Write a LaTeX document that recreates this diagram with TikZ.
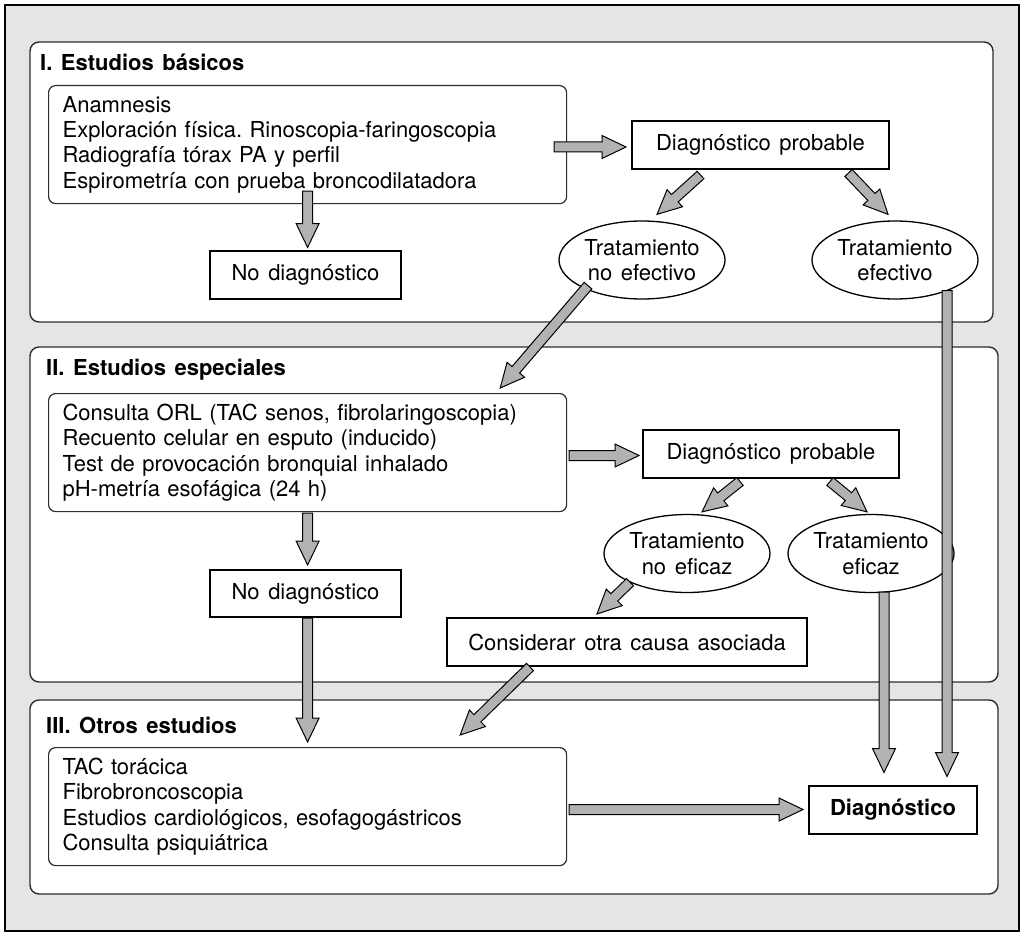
\documentclass[tikz,border=0pt]{standalone}
\usepackage{fontspec}
\setmainfont[WordSpace={1.4}]{TeX Gyre Heros}
\usepackage{tikz}
\usetikzlibrary{calc, shapes.geometric}
\usepackage{xcolor}
\definecolor{bggray}{RGB}{229,229,229}
\definecolor{arrowgray}{RGB}{178,178,178}
\definecolor{framegray}{RGB}{45,45,45}
\frenchspacing

\tikzset{
  panel/.style={draw=framegray, line width=1.4pt, fill=white, rounded corners=9pt},
  paneltitle/.style={anchor=west, inner sep=0pt, font=\fontsize{22}{25.3}\selectfont\bfseries},
  listbox/.style={draw=framegray, line width=1.2pt, rounded corners=7pt, anchor=north west,
    align=left, text width=490pt, inner xsep=14pt, inner ysep=0pt, minimum width=518pt, minimum height=118pt},
  resultbox/.style={draw=black, line width=2pt, fill=white, inner sep=0pt, minimum height=48pt},
  treatment/.style={ellipse, draw=black, line width=1.3pt, fill=white, inner sep=0pt,
    minimum width=166pt, minimum height=78pt, align=center},
  fat/.style={draw=black, line width=1pt, fill=arrowgray, line join=miter,
    to path={let \p1=(\tikztostart), \p2=(\tikztotarget), \p3=($(\p2)!24pt!(\p1)$) in
      ($(\p1)!5pt!90:(\p2)$) -- ($(\p3)!5pt!-90:(\p1)$) -- ($(\p3)!11.5pt!-90:(\p1)$) -- (\p2)
      -- ($(\p3)!11.5pt!90:(\p1)$) -- ($(\p3)!5pt!90:(\p1)$) -- ($(\p1)!5pt!-90:(\p2)$) -- cycle}}
}

\begin{document}
\begin{tikzpicture}[x=1pt, y=-1pt, font=\fontsize{22}{25.3}\selectfont]
  \useasboundingbox (0,0) rectangle (1024,936);
  \draw[line width=2pt, fill=bggray] (5,5) rectangle (1019,931);

  % panels
  \draw[panel] (30,42) rectangle (993,322);
  \draw[panel] (30,347) rectangle (998,682);
  \draw[panel] (30,700) rectangle (998,894);
  \node[paneltitle] (tI) at (40,62) {I. Estudios básicos};
  \node[paneltitle] (tII) at (46,370) {II. Estudios especiales};
  \node[paneltitle] (tIII) at (46,725) {III. Otros estudios};

  % I. Estudios basicos
  \node[listbox] (a1) at (48,85) {Anamnesis\\Exploración física. Rinoscopia-faringoscopia\\Radiografía tórax PA y perfil\\Espirometría con prueba broncodilatadora};
  \node[resultbox, minimum width=257pt] (dpA) at (760.5,145) {Diagnóstico probable};
  \node[resultbox, minimum width=191pt] (ndA) at (305.5,274.5) {No diagnóstico};
  \node[treatment] (tneA) at (642,260) {Tratamiento\\no efectivo};
  \node[treatment] (teA) at (895,260) {Tratamiento\\efectivo};

  % II. Estudios especiales
  \node[listbox] (a2) at (48,393) {Consulta ORL (TAC senos, fibrolaringoscopia)\\Recuento celular en esputo (inducido)\\Test de provocación bronquial inhalado\\pH-metría esofágica (24 h)};
  \node[resultbox, minimum width=256pt] (dpB) at (771,453.5) {Diagnóstico probable};
  \node[resultbox, minimum width=191pt, minimum height=47pt] (ndB) at (305.5,593.5) {No diagnóstico};
  \node[treatment] (tneB) at (687,553.5) {Tratamiento\\no eficaz};
  \node[treatment] (teB) at (871,553.5) {Tratamiento\\eficaz};
  \node[resultbox, minimum width=360pt] (cons) at (627,642) {Considerar otra causa asociada};

  % III. Otros estudios
  \node[listbox] (a3) at (48,747) {TAC torácica\\Fibrobroncoscopia\\Estudios cardiológicos, esofagogástricos\\Consulta psiquiátrica};
  \node[resultbox, minimum width=168pt, font=\fontsize{22}{25.3}\selectfont\bfseries] (diag) at (893,809.5) {Diagnóstico};

  % arrows
  \draw[fat] ($(a1.east |- dpA.west)+(-13,2)$) to ($(dpA.west)+(-5,2)$);
  \draw[fat] ($(dpA.south)+(-60,5)$) to ($(tneA.north)+(15,-6)$);
  \draw[fat] ($(dpA.south)+(88,3)$) to ($(teA.north)+(-7,-6)$);
  \draw[fat] ($(a1.south)+(0,-13)$) to ($(a1.south |- ndA.north)+(0,-2)$);
  \draw[fat] ($(tneA.south)+(-54,-14)$) to ($(a2.north east)+(-67,-5)$);
  \draw[fat] ($(teA.south)+(52,-9)$) to ($(diag.north)+(54,-8)$);
  \draw[fat] ($(a2.east |- dpB.west)+(2,2)$) to ($(dpB.west)+(-3,2)$);
  \draw[fat] ($(dpB.south)+(-31,3)$) to ($(tneB.north)+(15,-2)$);
  \draw[fat] ($(dpB.south)+(59,3)$) to ($(teB.north)+(-4,-2)$);
  \draw[fat] ($(a2.south)+(0,1)$) to ($(a2.south |- ndB.north)+(0,-4)$);
  \draw[fat] (a2.south |- ndB.south) to ($(a2.south |- a3.north)+(0,-5)$);
  \draw[fat] ($(tneB.south)+(-57,-11)$) to ($(cons.north)+(-30,-3)$);
  \draw[fat] ($(cons.south)+(-97,0)$) to ($(a3.north east)+(-107,-12)$);
  \draw[fat] ($(teB.south)+(13,-1)$) to ($(diag.north)+(-9,-12)$);
  \draw[fat] ($(a3.east |- diag.west)+(2,0)$) to ($(diag.west)+(-5,0)$);
\end{tikzpicture}
\end{document}
